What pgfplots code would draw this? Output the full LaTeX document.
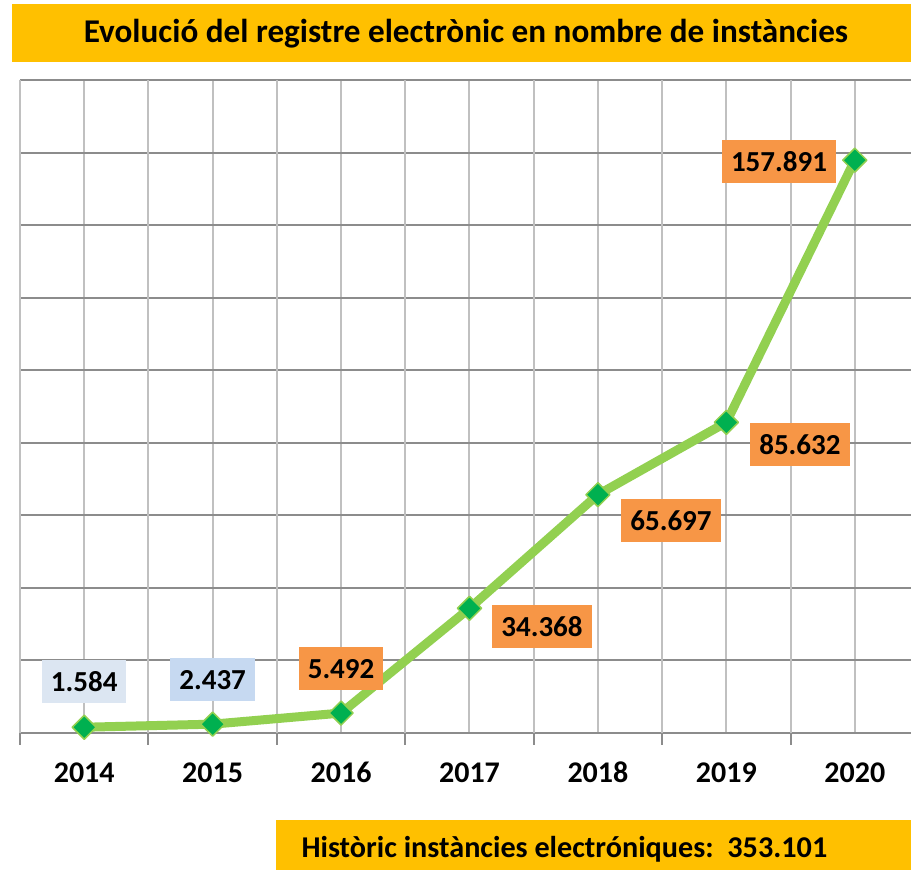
\documentclass[border=0pt]{standalone}
\usepackage{fontspec}
\setmainfont{Carlito}
\usepackage{pgfplots}
\pgfplotsset{compat=1.18}
\definecolor{titleyellow}{HTML}{FFC000}
\definecolor{linegreen}{HTML}{92D050}
\definecolor{markgreen}{HTML}{00B050}
\definecolor{lblorange}{HTML}{F79646}
\definecolor{lblblueA}{HTML}{DCE6F2}
\definecolor{lblblueB}{HTML}{C6D9F1}
\definecolor{hgrid}{HTML}{8C8C8C}
\definecolor{vgrid}{HTML}{C0C0C0}
\begin{document}
\begin{tikzpicture}[x=1pt,y=1pt]
\useasboundingbox (0,0) rectangle (911,870);
\clip (0,0) rectangle (911,870);
\fill[titleyellow] (12,808) rectangle (911,866);
\node[font=\fontsize{33.2}{40}\selectfont\bfseries, anchor=base] at (466,827) {Evolució del registre electrònic en nombre de instàncies};
\fill[titleyellow] (276,0) rectangle (911,50);
\node[font=\fontsize{30.2}{36}\selectfont\bfseries, anchor=base west] at (298,12) {Històric instàncies electróniques:~~353.101};
\begin{axis}[
  at={(20pt,137pt)}, anchor=south west, scale only axis,
  width=899pt, height=653pt,
  xmin=-0.5, xmax=6.5, ymin=0, ymax=180000,
  scaled y ticks=false,
  axis line style={draw=none},
  xtick={0,...,6}, xticklabels={2014,2015,2016,2017,2018,2019,2020},
  ytick={0,20000,...,180000}, yticklabels={},
  xmajorgrids, ymajorgrids,
  x grid style={vgrid, line width=2pt},
  y grid style={hgrid, line width=2pt},
  major tick length=12pt, tick align=outside,
  xtick pos=left,
  xtick style={draw=none}, ytick style={draw=none},
  extra x ticks={-0.5,0.5,1.5,2.5,3.5,4.5,5.5,6.5}, extra x tick labels={},
  extra x tick style={grid=major, xtick style={draw=hgrid, line width=2pt}},
  xticklabel style={font=\fontsize{30}{36}\selectfont\bfseries, anchor=base, text height=0pt, text depth=0pt, yshift=-38pt},
  clip=false,
]
\addplot[linegreen, line width=9pt, line join=round, mark=square*, mark size=8.5pt,
  mark options={rotate=45, fill=markgreen, draw=linegreen, line width=1.5pt}]
  coordinates {(0,1584) (1,2437) (2,5492) (3,34368) (4,65697) (5,85632) (6,157891)};
\tikzset{lbl/.style={font=\fontsize{29}{34}\selectfont\bfseries, minimum height=43pt, inner xsep=9pt, inner ysep=0pt, anchor=center}}
\node[lbl, fill=lblblueA] at (axis cs:0,14058) {1.584};
\node[lbl, fill=lblblueB] at (axis cs:1,14610) {2.437};
\node[lbl, fill=lblorange] at (axis cs:2,17642) {5.492};
\node[lbl, fill=lblorange] at (axis cs:3.5645,29219) {34.368};
\node[lbl, fill=lblorange] at (axis cs:4.569,58438) {65.697};
\node[lbl, fill=lblorange] at (axis cs:5.573,79387) {85.632};
\node[lbl, fill=lblorange] at (axis cs:5.410,157396) {157.891};
\end{axis}
\end{tikzpicture}
\end{document}
